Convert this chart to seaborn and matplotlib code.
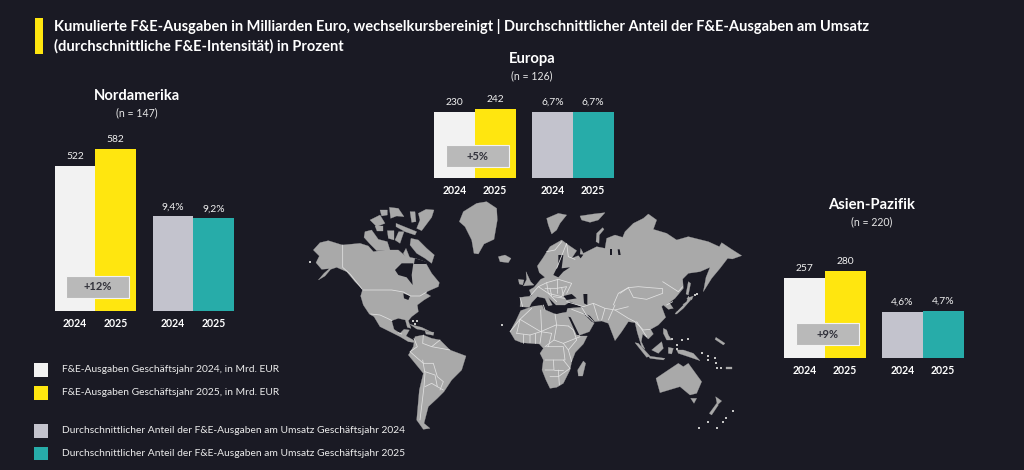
import matplotlib
matplotlib.use('Agg')
import matplotlib.pyplot as plt
from matplotlib.patches import Rectangle
import pandas as pd
import seaborn as sns

# Daten
regionen = ['Nordamerika', 'Europa', 'Asien-Pazifik']
stichprobe = [147, 126, 220]
jahre = ['2024', '2025']
ausgaben_2024 = [522, 230, 257]
ausgaben_2025 = [582, 242, 280]
anteil_2024 = [9.4, 6.7, 4.6]
anteil_2025 = [9.2, 6.7, 4.7]
wachstum = ['+12%', '+5%', '+9%']

titel = ['Kumulierte F&E-Ausgaben in Milliarden Euro, wechselkursbereinigt | '
         'Durchschnittlicher Anteil der F&E-Ausgaben am Umsatz',
         '(durchschnittliche F&E-Intensität) in Prozent']
legende = ['F&E-Ausgaben Geschäftsjahr 2024, in Mrd. EUR',
           'F&E-Ausgaben Geschäftsjahr 2025, in Mrd. EUR',
           'Durchschnittlicher Anteil der F&E-Ausgaben am Umsatz Geschäftsjahr 2024',
           'Durchschnittlicher Anteil der F&E-Ausgaben am Umsatz Geschäftsjahr 2025']

# Farben
HINTERGRUND = '#1a1a24'
WEISS = '#f2f2f2'
GELB = '#ffe60f'
GRAU = '#c3c3cd'
TUERKIS = '#27aca9'
LAND = '#a9a9a9'
GRENZE = '#e2e2e2'

# Umrisse der Karte (Koordinaten der Kartenflaeche, 1410 x 840)
land = [
    # Nordamerika
    [(40, 180), (60, 158), (85, 152), (127, 165), (180, 160), (205, 168), (220, 185), (255, 180), (295, 180),
     (318, 200), (345, 205), (375, 215), (395, 250), (418, 278), (415, 290), (392, 300), (375, 308), (392, 318),
     (372, 330), (352, 345), (355, 365), (335, 380), (325, 392), (333, 415), (322, 412), (316, 390), (295, 385),
     (275, 392), (282, 418), (300, 430), (312, 418), (328, 420), (318, 438), (340, 450), (345, 458), (325, 455),
     (300, 440), (270, 425), (240, 410), (222, 380), (208, 372), (190, 345), (182, 318), (188, 298), (165, 275),
     (140, 245), (110, 232), (92, 238), (75, 258), (55, 270), (72, 250), (88, 236), (65, 238), (48, 218), (58, 198)],
    # Kanadische Inseln
    [(195, 125), (215, 120), (235, 148), (262, 155), (270, 180), (230, 182), (210, 162), (192, 142)],
    [(333, 145), (355, 150), (380, 175), (403, 195), (395, 220), (375, 205), (350, 190), (330, 165)],
    [(355, 70), (378, 58), (402, 60), (395, 82), (365, 122), (350, 115), (360, 90)],
    [(330, 65), (345, 65), (348, 95), (335, 97)],
    [(288, 100), (325, 115), (350, 125), (345, 135), (315, 125), (288, 110)],
    [(210, 90), (240, 75), (255, 100), (230, 110)],
    [(240, 60), (262, 60), (262, 75), (245, 78)],
    [(268, 52), (295, 55), (312, 80), (290, 78), (272, 85)],
    [(262, 122), (282, 122), (282, 150), (265, 145)],
    [(296, 125), (312, 125), (300, 160), (285, 150)],
    [(225, 108), (250, 108), (250, 124), (232, 124)],
    [(318, 175), (332, 210), (322, 214), (310, 190)],
    # Groenland, Island, Svalbard usw.
    [(490, 65), (530, 40), (560, 35), (590, 55), (592, 90), (582, 148), (552, 162), (535, 192), (522, 190), (515, 150), (495, 110), (478, 95)],
    [(595, 200), (615, 195), (633, 205), (625, 218), (600, 215)],
    [(740, 85), (775, 70), (800, 75), (780, 100), (770, 120), (755, 132), (745, 105)],
    [(840, 78), (880, 72), (915, 68), (895, 90), (870, 97), (845, 90)],
    [(908, 113), (912, 118), (898, 135), (897, 160), (888, 155), (890, 130)],
    # Eurasien
    [(660, 350), (662, 322), (695, 318), (688, 300), (702, 292), (722, 268), (735, 262), (718, 248), (712, 228), (728, 205), (750, 170),
     (785, 150), (805, 165), (830, 182), (815, 205), (840, 195), (842, 175), (850, 190), (890, 170), (915, 175), (920, 145), (945, 135), (968, 142),
     (975, 125), (1000, 100), (1030, 85), (1045, 72), (1070, 90), (1060, 118), (1100, 130), (1130, 150), (1165, 140), (1225, 155), (1258, 170),
     (1265, 158), (1295, 178), (1325, 197), (1297, 207), (1283, 205), (1260, 235), (1235, 265), (1210, 305), (1218, 262), (1230, 232),
     (1200, 245), (1165, 250), (1148, 267), (1150, 295), (1125, 325), (1108, 338), (1120, 355), (1105, 358), (1090, 345), (1085, 350),
     (1097, 382), (1075, 405), (1052, 418), (1060, 432), (1045, 447), (1028, 432), (1024, 455), (1035, 478), (1025, 470), (1012, 428), (1005, 398),
     (985, 395), (965, 425), (945, 452), (925, 400), (905, 393), (885, 395), (868, 425), (835, 437), (803, 385), (800, 362), (803, 355),
     (840, 352), (850, 352), (810, 335), (795, 345), (780, 345), (768, 345), (745, 322), (757, 345), (745, 348), (735, 325), (712, 320), (695, 338), (688, 352)],
    # Afrika
    [(630, 425), (648, 392), (662, 362), (690, 352), (725, 342), (732, 358), (765, 372), (790, 368), (807, 365), (822, 415), (840, 438),
     (862, 438), (850, 462), (826, 487), (815, 515), (810, 540), (790, 580), (770, 592), (750, 595), (738, 570), (726, 540), (730, 510),
     (720, 490), (730, 475), (718, 462), (690, 460), (665, 458), (645, 450)],
    [(850, 513), (857, 520), (848, 558), (835, 558), (833, 540)],
    # Suedamerika
    [(345, 440), (370, 435), (395, 445), (420, 450), (450, 480), (498, 498), (485, 540), (455, 570), (432, 605), (412, 625), (385, 650),
     (372, 700), (390, 715), (370, 718), (350, 690), (358, 600), (370, 550), (325, 495), (340, 470)],
    # Australien, Ozeanien
    [(1068, 565), (1105, 540), (1135, 520), (1150, 530), (1165, 520), (1205, 575), (1190, 610), (1170, 615), (1140, 590), (1080, 608)],
    [(1172, 625), (1190, 625), (1182, 640)],
    [(1228, 670), (1250, 640), (1255, 645), (1235, 675)],
    [(1247, 620), (1265, 633), (1252, 645)],
    [(1130, 480), (1150, 480), (1180, 490), (1200, 512), (1165, 500), (1135, 490)],
    [(1005, 458), (1015, 460), (1050, 498), (1040, 502)],
    [(1045, 498), (1095, 505), (1090, 510), (1050, 505)],
    [(1055, 480), (1085, 455), (1090, 475), (1075, 490)],
    [(1090, 415), (1100, 420), (1105, 435), (1115, 450), (1100, 450), (1090, 430)],
    [(1105, 472), (1120, 475), (1115, 492), (1105, 490)],
    [(1248, 442), (1275, 460), (1270, 465), (1245, 448)],
    [(1278, 531), (1297, 531), (1297, 536), (1278, 536)],
    # Japan, Sachalin, Grossbritannien, Kuba
    [(1125, 372), (1140, 350), (1160, 335), (1165, 318), (1172, 330), (1150, 355), (1130, 372)],
    [(1160, 325), (1180, 318), (1175, 330)],
    [(1165, 275), (1172, 280), (1165, 315), (1158, 312)],
    [(678, 245), (692, 275), (702, 285), (670, 288), (680, 268)],
    [(655, 268), (672, 270), (668, 285), (658, 282)],
    [(330, 403), (365, 412), (392, 425), (350, 417)],
    [(375, 423), (402, 427), (400, 436), (378, 432)],
]

wasser = [
    # Hudson Bay, Grosse Seen
    [(285, 240), (305, 220), (340, 220), (335, 255), (338, 285), (320, 262), (295, 255)],
    [(345, 205), (378, 215), (380, 222), (342, 222)],
    [(310, 310), (330, 318), (325, 330), (312, 325)],
    # Ostsee, Schwarzes Meer, Kaspisches Meer, Persischer Golf
    [(760, 255), (775, 225), (775, 195), (790, 195), (785, 235), (810, 232), (790, 245), (775, 262)],
    [(790, 318), (815, 312), (830, 325), (800, 330)],
    [(850, 312), (862, 312), (862, 345), (852, 340)],
    [(848, 368), (870, 378), (888, 400), (875, 395)],
    # Mittelmeer, Rotes Meer
    [(695, 340), (720, 330), (728, 345), (700, 348)],
    [(748, 350), (770, 348), (800, 352), (800, 362), (770, 372), (750, 362)],
    [(805, 380), (812, 382), (838, 435), (830, 435)],
    # Japanisches Meer, Ob-Bucht, Weisses Meer
    [(1115, 345), (1130, 328), (1150, 345), (1130, 365)],
    [(930, 178), (936, 178), (936, 196), (930, 196)],
    [(953, 178), (959, 178), (962, 195), (955, 195)],
    [(832, 192), (850, 194), (842, 205)],
]

grenzen = [
    [(128, 165), (128, 232), (150, 252), (187, 298)],
    [(188, 300), (275, 300), (310, 306), (332, 318), (360, 318), (380, 306)],
    [(212, 372), (240, 375), (262, 385), (276, 392)],
    [(295, 428), (305, 432)],
    [(342, 445), (352, 470), (330, 485), (370, 520), (400, 520), (412, 560), (430, 575), (420, 600)],
    [(370, 435), (368, 460), (395, 470), (420, 450)],
    [(368, 510), (375, 550), (372, 590), (360, 690)],
    [(375, 545), (405, 555), (412, 590), (395, 580), (375, 590)],
    [(412, 590), (430, 600)],
    [(395, 470), (450, 480)],
    [(660, 322), (668, 350)],
    [(690, 318), (715, 290), (740, 278), (775, 268), (815, 280), (800, 310)],
    [(740, 185), (765, 180), (785, 155)],
    [(770, 235), (800, 160), (805, 200), (825, 208)],
    [(735, 295), (770, 295), (800, 290), (785, 320), (745, 310), (715, 290)],
    [(740, 278), (745, 310)], [(770, 268), (770, 310)], [(760, 320), (795, 325)],
    [(750, 295), (755, 318)], [(785, 292), (790, 318)], [(745, 310), (770, 335)],
    [(800, 335), (850, 350), (880, 340), (915, 355), (945, 360), (985, 350)],
    [(815, 358), (860, 375), (880, 395)], [(845, 352), (862, 380)],
    [(880, 340), (895, 390)], [(945, 345), (925, 390)], [(915, 355), (905, 390)],
    [(985, 293), (1015, 290), (1050, 293), (1088, 296), (1088, 310), (1040, 328), (1000, 322), (985, 293)],
    [(960, 310), (985, 293)], [(1088, 275), (1135, 305), (1148, 290)],
    [(1100, 345), (1118, 335)],
    [(940, 345), (955, 310), (985, 293)],
    [(945, 360), (985, 385), (1005, 395), (1030, 420), (1050, 418)], [(1010, 395), (1040, 440)],
    [(630, 425), (660, 388), (695, 355)], [(660, 388), (722, 425), (768, 405), (805, 408)],
    [(722, 360), (725, 425), (720, 460)], [(765, 372), (770, 405), (762, 450), (735, 470)],
    [(805, 408), (820, 420), (830, 450), (805, 480), (815, 515)], [(762, 450), (790, 460), (805, 480)],
    [(650, 430), (690, 435), (690, 458)], [(668, 432), (668, 458)],
    [(660, 388), (650, 430)], [(690, 435), (722, 425)], [(705, 430), (705, 460)],
    [(740, 470), (790, 470), (795, 510), (760, 510), (735, 510)], [(760, 510), (762, 540), (735, 540)],
    [(790, 510), (810, 535), (775, 560), (750, 560)], [(762, 540), (790, 540)],
    [(790, 460), (840, 440)], [(730, 345), (735, 360)],
    [(775, 540), (778, 585)], [(745, 470), (755, 430), (722, 425)],
]

inseln = [(1205, 490), (1225, 497), (1225, 510), (1245, 505), (1247, 520), (1250, 533), (1262, 533),
          (1198, 715), (1225, 695), (1252, 713), (1270, 695), (1278, 683), (1300, 663),
          (1115, 448), (1130, 465), (1145, 450), (1165, 448), (1130, 478), (1185, 315), (1192, 312),
          (340, 392), (350, 392), (345, 403), (605, 405), (30, 216)]


def balken(rect, werte, farben, skala, labels):
    """Zwei aneinanderstehende Balken; rect = (links, basis, breite, hoehe) in Pixeln."""
    links, basis, breite, hoehe = rect
    ax = fig.add_axes([links / 1024, 1 - basis / 470, breite / 1024, hoehe / 470], facecolor='none')
    df = pd.DataFrame({'Jahr': jahre, 'Wert': werte})
    sns.barplot(data=df, x='Jahr', y='Wert', hue='Jahr', palette=farben, width=1,
                legend=False, saturation=1, linewidth=0, edgecolor='none', ax=ax)
    ax.set_xlim(-0.5, 1.5)
    ax.set_ylim(0, hoehe / skala)
    ax.set(xlabel='', ylabel='')
    ax.set_yticks([])
    ax.tick_params(axis='x', length=0, pad=5, colors='white')
    for t in ax.get_xticklabels():
        t.set_fontweight('bold')
        t.set_fontsize(7.6)
    sns.despine(ax=ax, left=True, bottom=True)
    for c, text in zip(ax.containers, labels):
        ax.bar_label(c, labels=[text], padding=3.5, color='#f0f0f0', fontsize=7.4)
    return ax


sns.set_theme(style='dark', rc={'figure.facecolor': HINTERGRUND, 'axes.facecolor': HINTERGRUND})
plt.rcParams['font.family'] = ['Lato', 'DejaVu Sans']

fig = plt.figure(figsize=(10.24, 4.7), dpi=100, facecolor=HINTERGRUND)

# Weltkarte
karte = fig.add_axes([300 / 1024, 0, 470 / 1024, 280 / 470], facecolor='none')
karte.set_xlim(0, 1410)
karte.set_ylim(840, 0)
karte.axis('off')
for umriss in land:
    karte.fill(*zip(*umriss), color=LAND, lw=0.2, zorder=2)
for umriss in wasser:
    karte.fill(*zip(*umriss), color=HINTERGRUND, lw=0, zorder=3)
for linie in grenzen:
    karte.plot(*zip(*linie), color=GRENZE, lw=0.55, zorder=4)
karte.scatter(*zip(*inseln), s=4, color='#c4c4c4', marker='s', lw=0, zorder=4)

# Balken je Region: linker/rechter Block, Basis und Pixel je Einheit
linke_kante = [54.5, 434, 784]
rechte_kante = [152.5, 532, 882]
basis = [311, 178, 358]
skala_mrd = [0.278, 0.287, 0.312]
skala_pct = [10.1, 9.9, 10.0]

for i in range(3):
    werte = [ausgaben_2024[i], ausgaben_2025[i]]
    balken((linke_kante[i], basis[i], 81.5, 170), werte, [WEISS, GELB], skala_mrd[i], [str(w) for w in werte])
    werte = [anteil_2024[i], anteil_2025[i]]
    balken((rechte_kante[i], basis[i], 81.5, 110), werte, [GRAU, TUERKIS], skala_pct[i],
           [f'{w:.1f}'.replace('.', ',') + '%' for w in werte])

# Texte, Legende, Badges in Pixelkoordinaten
oben = fig.add_axes([0, 0, 1, 1], facecolor='none', zorder=10)
oben.set_xlim(0, 1024)
oben.set_ylim(470, 0)
oben.axis('off')

oben.add_patch(Rectangle((35, 18), 8, 36, color=GELB, lw=0))
for y, zeile in zip([27, 46], titel):
    oben.text(54, y, zeile, color='white', fontsize=10.5, fontweight='bold', va='center', ha='left')

mitte_x = [137, 532, 872]
name_y = [96, 59, 205]
for i, name in enumerate(regionen):
    oben.text(mitte_x[i], name_y[i], name, color='white', fontsize=10.6, fontweight='bold', ha='center', va='center')
    oben.text(mitte_x[i], name_y[i] + 17, f'(n = {stichprobe[i]})', color='#e6e6e6', fontsize=7.6, ha='center', va='center')

badge_x = [66, 445.5, 796]
badge_y = [276, 145, 323]
for i, text in enumerate(wachstum):
    oben.add_patch(Rectangle((badge_x[i], badge_y[i]), 63, 21.5, fc='#b9b9b9', ec='#f2f2f2', lw=0.8))
    oben.text(badge_x[i] + 31.5, badge_y[i] + 11, text, color='#33333c', fontsize=8, fontweight='bold',
              ha='center', va='center')

legende_y = [369.5, 392.5, 430.5, 453]
for y, text, farbe in zip(legende_y, legende, [WEISS, GELB, GRAU, TUERKIS]):
    oben.add_patch(Rectangle((34, y - 6.5), 13.5, 13.5, color=farbe, lw=0))
    oben.text(62, y, text, color='#ececec', fontsize=7.4, ha='left', va='center')

fig.savefig('out.png', dpi=100, facecolor=HINTERGRUND)
